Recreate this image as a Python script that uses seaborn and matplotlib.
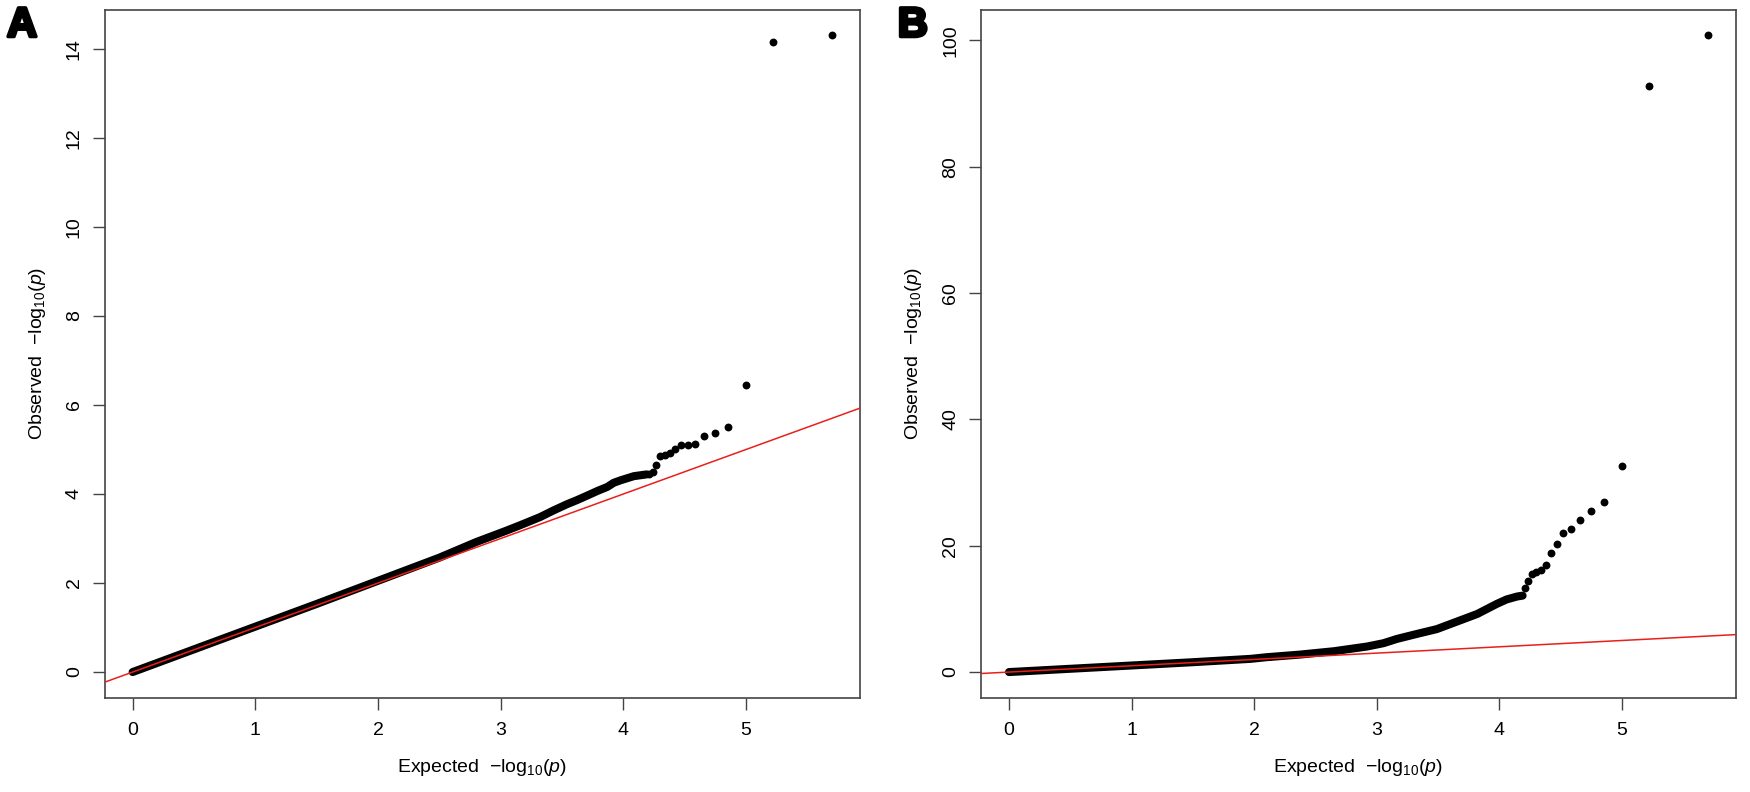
import numpy as np
import pandas as pd
import matplotlib
matplotlib.use('Agg')
import matplotlib.pyplot as plt
import matplotlib.patheffects as pe
import seaborn as sns

# --- values ---
# panel A: dense body of the curve (expected, observed)
a_body_exp = [0.0, 0.5, 1.0, 1.5, 2.0, 2.5, 2.8, 3.05, 3.16, 3.32, 3.43, 3.54, 3.62, 3.71, 3.79, 3.87, 3.92, 3.98, 4.085, 4.19]
a_body_obs = [0.0, 0.51, 1.02, 1.53, 2.05, 2.57, 2.92, 3.18, 3.30, 3.48, 3.63, 3.77, 3.86, 3.97, 4.07, 4.16, 4.25, 4.31, 4.40, 4.44]
# panel A: separate points in the upper tail
a_tail_exp = [5.70, 5.22, 5.00, 4.855, 4.746, 4.659, 4.585, 4.523, 4.469, 4.420, 4.377, 4.338, 4.302, 4.269, 4.238, 4.209]
a_tail_obs = [14.30, 14.15, 6.44, 5.51, 5.38, 5.31, 5.12, 5.10, 5.09, 5.01, 4.91, 4.88, 4.85, 4.66, 4.49, 4.46]

# panel B: dense body
b_body_exp = [0.0, 0.5, 1.0, 1.5, 1.97, 2.10, 2.375, 2.65, 2.92, 3.055, 3.165, 3.33, 3.49, 3.60, 3.71, 3.82, 3.90, 3.98, 4.06, 4.145, 4.19]
b_body_obs = [0.0, 0.52, 1.04, 1.56, 2.09, 2.35, 2.77, 3.3, 4.04, 4.57, 5.25, 6.05, 6.8, 7.6, 8.4, 9.2, 10.0, 10.8, 11.5, 11.96, 12.1]
# panel B: separate tail points
b_tail_exp = [5.70, 5.22, 5.00, 4.855, 4.746, 4.659, 4.585, 4.523, 4.469, 4.420, 4.377, 4.338, 4.302, 4.269, 4.238, 4.209]
b_tail_obs = [100.8, 92.8, 32.55, 26.9, 25.5, 24.05, 22.7, 22.0, 20.3, 18.9, 16.9, 16.1, 15.8, 15.45, 14.4, 13.3]

a_yticks = [0, 2, 4, 6, 8, 10, 12, 14]
b_yticks = [0, 20, 40, 60, 80, 100]
xticks = [0, 1, 2, 3, 4, 5]

sns.set_style('ticks')
plt.rcParams['font.family'] = ['Liberation Sans', 'DejaVu Sans']
plt.rcParams['mathtext.fontset'] = 'custom'
plt.rcParams['mathtext.rm'] = 'Liberation Sans'
plt.rcParams['mathtext.it'] = 'Liberation Sans:italic'
plt.rcParams['mathtext.bf'] = 'Liberation Sans:bold'
plt.rcParams['text.color'] = 'black'
plt.rcParams['axes.labelcolor'] = 'black'
plt.rcParams['xtick.color'] = 'black'
plt.rcParams['ytick.color'] = 'black'

fig = plt.figure(figsize=(17.5, 7.92), dpi=100)
ax_a = fig.add_axes([0.0598, 0.1193, 0.4316, 0.8681])
ax_b = fig.add_axes([0.5606, 0.1193, 0.4312, 0.8681])


def qq_panel(ax, body_x, body_y, tail_x, tail_y, yticks, ylim):
    body = pd.DataFrame({'exp': body_x, 'obs': body_y})
    tail = pd.DataFrame({'exp': tail_x, 'obs': tail_y})
    sns.lineplot(data=body, x='exp', y='obs', ax=ax, color='black', lw=5.8,
                 sort=False, estimator=None, solid_capstyle='round', zorder=2)
    sns.scatterplot(data=tail, x='exp', y='obs', ax=ax, color='black', s=32,
                    linewidth=0, zorder=3)
    ax.axline((0, 0), slope=1, color='#e8201c', lw=1.1, zorder=4)
    ax.set_xlim(-0.228, 5.928)
    ax.set_ylim(*ylim)
    ax.set_xticks(xticks)
    ax.set_yticks(yticks)
    for sp in ax.spines.values():
        sp.set_visible(True)
        sp.set_color('#444444')
        sp.set_linewidth(1.2)
    ax.tick_params(axis='both', length=8.6, width=1.0, color='#444444',
                   labelsize=14, labelcolor='black', direction='out')
    ax.tick_params(axis='x', pad=9)
    ax.tick_params(axis='y', pad=7, labelrotation=90)
    for lab in ax.get_yticklabels():
        lab.set_va('center')
    ax.set_xlabel(r'Expected  $-\mathrm{log}_{10}(\mathit{p})$', fontsize=14, labelpad=13)
    ax.set_ylabel(r'Observed  $-\mathrm{log}_{10}(\mathit{p})$', fontsize=14, labelpad=13)


qq_panel(ax_a, a_body_exp, a_body_obs, a_tail_exp, a_tail_obs, a_yticks, (-0.572, 14.872))
qq_panel(ax_b, b_body_exp, b_body_obs, b_tail_exp, b_tail_obs, b_yticks, (-4.03, 104.83))

heavy = [pe.withStroke(linewidth=2.5, foreground='black')]
fig.text(0.004, 0.993, 'A', fontsize=30, fontweight='bold', va='top', ha='left',
         color='black', path_effects=heavy)
fig.text(0.513, 0.993, 'B', fontsize=30, fontweight='bold', va='top', ha='left',
         color='black', path_effects=heavy)

fig.savefig('out.png', dpi=100)
print("Plot saved to out.png")
